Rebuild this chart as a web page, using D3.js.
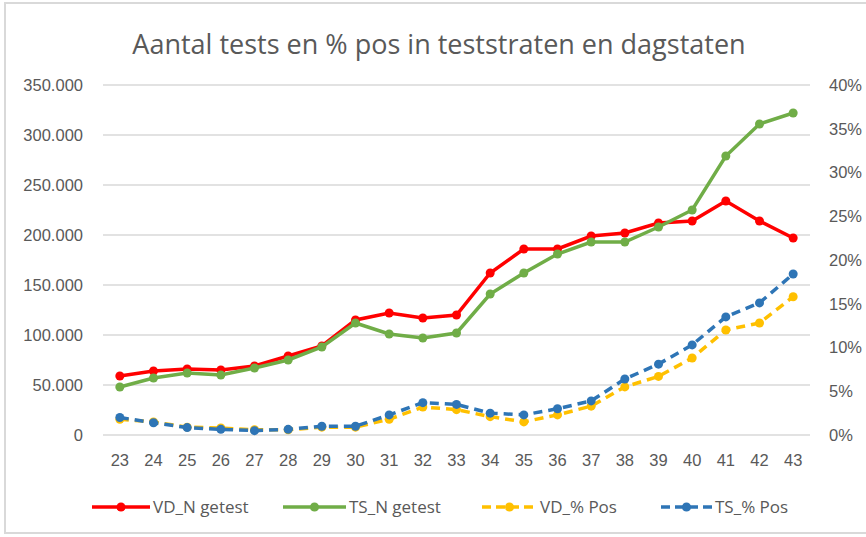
<!DOCTYPE html>
<html>
<head>
<meta charset="utf-8">
<script src="https://cdn.jsdelivr.net/npm/d3@7"></script>
<style>
  body { margin: 0; background: #fff; }
  svg { font-family: "Open Sans", "Liberation Sans", sans-serif; }
</style>
</head>
<body>
<svg width="866" height="537"></svg>
<script>
// week numbers
const weeks = ["23", "24", "25", "26", "27", "28", "29", "30", "31", "32", "33",
               "34", "35", "36", "37", "38", "39", "40", "41", "42", "43"];

// number of tests (left axis)
const vdN = [59000, 64000, 66000, 65000, 69000, 79000, 89000, 115000, 122000, 117000, 120000,
             162000, 186000, 186000, 199000, 202000, 212000, 214000, 234000, 214000, 197000];
const tsN = [48000, 57000, 62000, 60000, 67000, 75000, 88000, 112000, 101000, 97000, 102000,
             141000, 162000, 181000, 193000, 193000, 208000, 225000, 279000, 311000, 322000];

// % positive (right axis)
const vdPos = [1.8, 1.5, 0.9, 0.8, 0.6, 0.6, 0.9, 0.9, 1.8, 3.2, 2.9,
               2.1, 1.5, 2.3, 3.3, 5.5, 6.7, 8.8, 12.0, 12.8, 15.8];
const tsPos = [2.0, 1.4, 0.85, 0.65, 0.5, 0.65, 1.0, 1.0, 2.3, 3.7, 3.5,
               2.5, 2.3, 3.0, 3.9, 6.4, 8.1, 10.3, 13.5, 15.1, 18.4];

// tick values
const leftTicks = [0, 50000, 100000, 150000, 200000, 250000, 300000, 350000];
const rightTicks = [0, 5, 10, 15, 20, 25, 30, 35, 40];

const svg = d3.select("svg");
const gray = "#595959";

// outer border
svg.append("rect")
    .attr("x", 5).attr("y", 3)
    .attr("width", 880).attr("height", 530)
    .attr("fill", "none")
    .attr("stroke", "#d9d9d9")
    .attr("stroke-width", 2);

// title
svg.append("text")
    .attr("x", 439).attr("y", 54)
    .attr("text-anchor", "middle")
    .attr("font-size", 27)
    .attr("fill", gray)
    .text("Aantal tests en % pos in teststraten en dagstaten");

// scales
const x = d3.scaleBand()
    .domain(weeks)
    .range([103, 810]);

const yLeft = d3.scaleLinear()
    .domain([0, 350000])
    .range([435, 85]);

const yRight = d3.scaleLinear()
    .domain([0, 40])
    .range([435, 85]);

// gridlines
svg.append("g")
    .selectAll("line")
    .data(leftTicks)
    .enter()
    .append("line")
    .attr("x1", 103)
    .attr("x2", 810)
    .attr("y1", d => yLeft(d))
    .attr("y2", d => yLeft(d))
    .attr("stroke", "#d9d9d9")
    .attr("stroke-width", 1.3);

// left axis
const leftAxis = svg.append("g")
    .attr("transform", "translate(92,0)")
    .call(d3.axisLeft(yLeft)
        .tickValues(leftTicks)
        .tickSize(0)
        .tickFormat(d => d === 0 ? "0" : d3.format(",")(d).replace(/,/g, ".")));

// right axis
const rightAxis = svg.append("g")
    .attr("transform", "translate(820,0)")
    .call(d3.axisRight(yRight)
        .tickValues(rightTicks)
        .tickSize(0)
        .tickFormat(d => d + "%"));

// x axis
const xAxis = svg.append("g")
    .attr("transform", "translate(0,449)")
    .call(d3.axisBottom(x).tickSize(0));

[leftAxis, rightAxis, xAxis].forEach(function(g) {
    g.select(".domain").remove();
    g.selectAll("text")
        .attr("font-size", 16.5)
        .attr("fill", gray);
});
leftAxis.selectAll("text").attr("x", -9);
rightAxis.selectAll("text").attr("x", 9);
xAxis.selectAll("text").attr("dy", "0.85em");

const cx = (d, i) => x(weeks[i]) + x.bandwidth() / 2;

// series list
const series = [
    { name: "VD_N getest", values: vdN, y: yLeft, color: "#ff0000", dash: null },
    { name: "TS_N getest", values: tsN, y: yLeft, color: "#70ad47", dash: null },
    { name: "VD_% Pos", values: vdPos, y: yRight, color: "#ffc000", dash: "9,6" },
    { name: "TS_% Pos", values: tsPos, y: yRight, color: "#2e75b6", dash: "9,6" }
];

// draw lines and points (percent first, then counts)
[series[2], series[3], series[0], series[1]].forEach(function(s) {
    const line = d3.line()
        .x(cx)
        .y(d => s.y(d));

    svg.append("path")
        .datum(s.values)
        .attr("d", line)
        .attr("fill", "none")
        .attr("stroke", s.color)
        .attr("stroke-width", 3.5)
        .attr("stroke-dasharray", s.dash);

    svg.append("g")
        .selectAll("circle")
        .data(s.values)
        .enter()
        .append("circle")
        .attr("cx", cx)
        .attr("cy", d => s.y(d))
        .attr("r", 4.5)
        .attr("fill", s.color);
});

// legend
const legendX = [92, 283, 482, 661];
const legendW = [58, 63, 55, 51];
series.forEach(function(s, i) {
    const g = svg.append("g").attr("transform", "translate(" + legendX[i] + ",507)");
    g.append("line")
        .attr("x1", 0).attr("x2", legendW[i])
        .attr("stroke", s.color)
        .attr("stroke-width", 3.5)
        .attr("stroke-dasharray", s.dash ? "9,5" : null);
    g.append("circle")
        .attr("cx", legendW[i] / 2)
        .attr("r", 4.5)
        .attr("fill", s.color);
    g.append("text")
        .attr("x", legendW[i] + 3)
        .attr("y", 6)
        .attr("font-size", 17)
        .attr("fill", gray)
        .text(s.name);
});
</script>
</body>
</html>
